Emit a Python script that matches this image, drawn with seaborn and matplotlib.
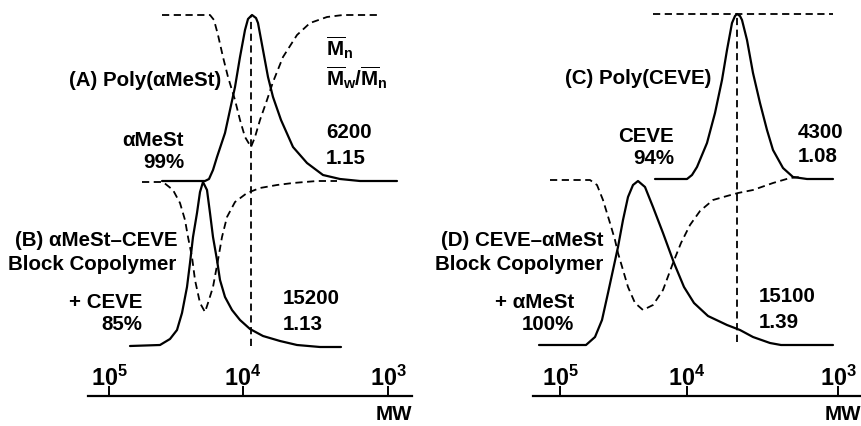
import matplotlib
matplotlib.use("Agg")
import matplotlib.pyplot as plt
import seaborn as sns
import pandas as pd

# ---------------- data (x = elution position, y = detector response) ----------------
# Left panel: (A) Poly(aMeSt) upper trace, (B) aMeSt-CEVE block copolymer lower trace
A_solid_x = [162, 205, 209, 213, 217, 225, 230, 235, 240, 245, 248, 252, 256, 258, 263, 268, 273, 281, 293, 307, 323, 340, 360, 397]
A_solid_y = [215, 215, 217, 226, 239, 263, 286, 309, 339, 366, 377, 381, 378, 373, 346, 319, 299, 276, 249, 233, 221, 217, 215, 215]
A_dash_x = [162, 210, 214, 218, 223, 228, 235, 240, 245, 251, 255, 260, 267, 273, 283, 297, 310, 327, 343, 377]
A_dash_y = [381, 381, 376, 361, 339, 319, 296, 276, 259, 249, 259, 276, 296, 314, 339, 361, 373, 379, 381, 381]
A_peak_x = 251
A_peak_span = [50, 381]

B_solid_x = [130, 160, 170, 177, 182, 187, 190, 193, 197, 200, 203, 207, 210, 213, 217, 220, 225, 232, 240, 250, 263, 280, 297, 320, 341]
B_solid_y = [50, 51, 57, 66, 83, 109, 133, 159, 183, 204, 214, 206, 183, 159, 136, 116, 99, 86, 76, 67, 60, 55, 51, 49, 49]
B_dash_x = [142, 163, 173, 180, 185, 188, 192, 195, 200, 205, 208, 213, 218, 222, 227, 235, 247, 260, 277, 293, 317, 337]
B_dash_y = [214, 214, 206, 193, 176, 159, 139, 116, 93, 84, 93, 109, 136, 159, 179, 194, 203, 208, 211, 213, 215, 215]

# Right panel: (C) Poly(CEVE) upper trace, (D) CEVE-aMeSt block copolymer lower trace
C_solid_x = [655, 687, 692, 697, 707, 715, 722, 727, 732, 735, 737, 740, 742, 747, 753, 760, 767, 773, 783, 793, 807, 833]
C_solid_y = [217, 217, 221, 229, 253, 283, 316, 346, 373, 380, 382, 380, 376, 356, 323, 293, 266, 246, 228, 219, 217, 217]
C_dash_x = [653, 833]
C_dash_y = [382, 382]
C_peak_x = 737
C_peak_span = [54, 382]

D_solid_x = [539, 586, 595, 602, 608, 613, 618, 623, 628, 633, 638, 645, 653, 663, 674, 684, 694, 708, 727, 740, 753, 770, 781, 833]
D_solid_y = [51, 51, 59, 76, 103, 126, 149, 176, 199, 211, 215, 209, 189, 163, 133, 109, 93, 80, 71, 66, 59, 53, 51, 51]
D_dash_x = [550, 590, 597, 603, 610, 615, 618, 623, 628, 635, 643, 653, 663, 673, 681, 690, 700, 713, 727, 738, 753, 773, 790, 800]
D_dash_y = [216, 216, 211, 196, 173, 156, 143, 126, 109, 93, 86, 91, 106, 133, 153, 171, 185, 196, 200, 203, 206, 213, 218, 219]

# MW calibration ticks (elution position of each decade)
left_ticks = [109, 243, 388]
right_ticks = [560, 687, 838]
tick_labels = [r"$10^5$", r"$10^4$", r"$10^3$"]

# ---------------- style ----------------
sns.set_theme(style="white")
plt.rcParams["font.family"] = ["Liberation Sans", "DejaVu Sans"]
plt.rcParams["font.weight"] = "bold"
plt.rcParams["mathtext.fontset"] = "custom"
plt.rcParams["mathtext.rm"] = "Liberation Sans:bold"
plt.rcParams["mathtext.it"] = "Liberation Sans:bold"
plt.rcParams["mathtext.bf"] = "Liberation Sans:bold"
plt.rcParams["mathtext.default"] = "rm"

FS = 14.8
W, H = 862, 426
fig = plt.figure(figsize=(W / 100, H / 100), dpi=100)
fig.patch.set_facecolor("white")

axL = fig.add_axes([88 / W, 30 / H, (412 - 88) / W, 396 / H])
axR = fig.add_axes([533 / W, 30 / H, (862 - 533) / W, 396 / H])

DASH = (0, (4, 2.5))
SOLID_LW = 1.6
DASH_LW = 1.3


def curve(ax, xs, ys, dashed=False):
    df = pd.DataFrame({"x": xs, "y": ys})
    sns.lineplot(data=df, x="x", y="y", ax=ax, color="black",
                 lw=DASH_LW if dashed else SOLID_LW,
                 linestyle=DASH if dashed else "-",
                 estimator=None, sort=False)


# left panel
curve(axL, A_solid_x, A_solid_y)
curve(axL, A_dash_x, A_dash_y, dashed=True)
curve(axL, B_solid_x, B_solid_y)
curve(axL, B_dash_x, B_dash_y, dashed=True)
axL.plot([A_peak_x, A_peak_x], A_peak_span, color="black", lw=DASH_LW, linestyle=DASH)

# right panel
curve(axR, C_solid_x, C_solid_y)
curve(axR, C_dash_x, C_dash_y, dashed=True)
curve(axR, D_solid_x, D_solid_y)
curve(axR, D_dash_x, D_dash_y, dashed=True)
axR.plot([C_peak_x, C_peak_x], C_peak_span, color="black", lw=DASH_LW, linestyle=DASH)

for ax, lims, ticks in [(axL, (88, 412), left_ticks), (axR, (533, 862), right_ticks)]:
    ax.set_facecolor("none")
    ax.set_xlim(*lims)
    ax.set_ylim(0, 396)
    for s in ["left", "right", "top"]:
        ax.spines[s].set_visible(False)
    ax.spines["bottom"].set_color("black")
    ax.spines["bottom"].set_linewidth(1.6)
    ax.set_yticks([])
    ax.set_xticks(ticks)
    ax.set_xticklabels(tick_labels)
    ax.tick_params(axis="x", direction="in", length=7, width=1.4, colors="black",
                   pad=-4.0, labelsize=FS + 2, bottom=True)
    for lab in ax.get_xticklabels():
        lab.set_va("bottom")
    ax.set_xlabel("")
    ax.set_ylabel("")

kw = dict(fontsize=FS, fontweight="bold", color="black", va="center", clip_on=False)

# left texts
axL.text(221, 316, "(A) Poly(αMeSt)", ha="right", **kw)
axL.text(184, 256, "αMeSt", ha="right", **kw)
axL.text(184, 234, "99%", ha="right", **kw)
axL.text(326, 348, r"$\overline{M}_{n}$", ha="left", **kw)
axL.text(326, 318, r"$\overline{M}_{w}/\overline{M}_{n}$", ha="left", **kw)
axL.text(326, 263, "6200", ha="left", **kw)
axL.text(326, 238, "1.15", ha="left", **kw)
axL.text(178, 155, "(B) αMeSt–CEVE", ha="right", **kw)
axL.text(176, 131, "Block Copolymer", ha="right", **kw)
axL.text(142, 93, "+ CEVE", ha="right", **kw)
axL.text(142, 71, "85%", ha="right", **kw)
axL.text(283, 98, "15200", ha="left", **kw)
axL.text(283, 71, "1.13", ha="left", **kw)
axL.text(412, -19, "MW", ha="right", **kw)

# right texts
axR.text(711, 317, "(C) Poly(CEVE)", ha="right", **kw)
axR.text(674, 260, "CEVE", ha="right", **kw)
axR.text(674, 238, "94%", ha="right", **kw)
axR.text(798, 263, "4300", ha="left", **kw)
axR.text(798, 239, "1.08", ha="left", **kw)
axR.text(604, 155, "(D) CEVE–αMeSt", ha="right", **kw)
axR.text(603, 131, "Block Copolymer", ha="right", **kw)
axR.text(574, 93, "+ αMeSt", ha="right", **kw)
axR.text(574, 71, "100%", ha="right", **kw)
axR.text(759, 99, "15100", ha="left", **kw)
axR.text(759, 73, "1.39", ha="left", **kw)
axR.text(861, -19, "MW", ha="right", **kw)

fig.savefig("out.png", dpi=100, facecolor="white")
